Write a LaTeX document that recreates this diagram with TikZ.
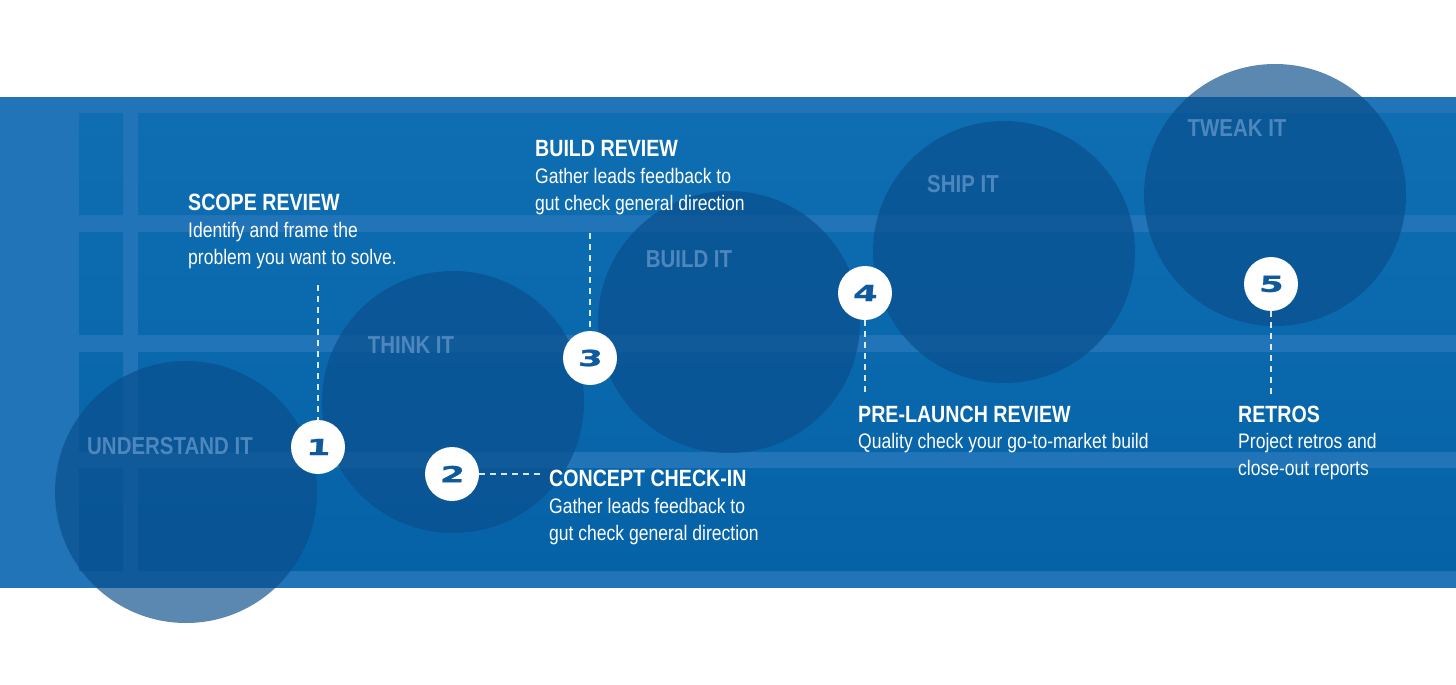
\documentclass[tikz,border=0pt]{standalone}
\usepackage{fontspec}
\setmainfont{Liberation Sans}
\newfontfamily\cond[FakeStretch=0.835]{Liberation Sans}
\newfontfamily\numfont[FakeStretch=1.6,FakeSlant=0.08,FakeBold=1]{DejaVu Sans}
\definecolor{bandlight}{HTML}{2274B8}
\definecolor{celltop}{HTML}{0F6EB2}
\definecolor{cellbot}{HTML}{0562A7}
\definecolor{bigc}{RGB}{10,78,140}
\definecolor{lbl}{HTML}{4D87BE}
\definecolor{numcol}{HTML}{0E5A9C}
\tikzset{
  bigcirc/.style={circle,fill=bigc,fill opacity=0.67,minimum size=262pt,inner sep=0pt},
  phase/.style={text=lbl,font=\cond\bfseries\fontsize{24.5}{28}\selectfont,inner sep=0pt},
  numc/.style={circle,fill=white,minimum size=54pt,inner sep=0pt,text=numcol,font=\numfont\bfseries\fontsize{22}{24}\selectfont},
  ttl/.style={anchor=base west,text=white,font=\cond\bfseries\fontsize{23.5}{27}\selectfont,inner sep=0pt},
  body/.style={anchor=base west,align=left,text=white,font=\cond\fontsize{21}{27}\selectfont,inner sep=0pt},
  dashc/.style={draw=white,draw opacity=0.85,line width=1.1pt,dash pattern=on 6pt off 5pt}
}
\begin{document}
\begin{tikzpicture}[x=1pt,y=-1pt]
\useasboundingbox (0,0) rectangle (1456,685);
\fill[white] (0,0) rectangle (1456,685);
% band
\fill[bandlight] (0,97) rectangle (1456,588);
\shade[top color=celltop,bottom color=cellbot]
  (79,113) rectangle (123,215) (138,113) rectangle (1456,215)
  (79,232) rectangle (123,335) (138,232) rectangle (1456,335)
  (79,352) rectangle (123,452) (138,352) rectangle (1456,452)
  (79,468) rectangle (123,571) (138,468) rectangle (1456,571);
% big circles
\node[bigcirc] (c1) at (186,492) {};
\node[bigcirc] (c2) at (453,402) {};
\node[bigcirc] (c3) at (729,322) {};
\node[bigcirc] (c4) at (1004,252) {};
\node[bigcirc] (c5) at (1275,195) {};
\node[phase] (p1) at (170,446) {UNDERSTAND IT};
\node[phase] (p2) at (411,345) {THINK IT};
\node[phase] (p3) at (689,259) {BUILD IT};
\node[phase] (p4) at (963,184) {SHIP IT};
\node[phase] (p5) at (1237,128) {TWEAK IT};
% numbered circles
\node[numc] (n1) at (318,447) {1};
\node[numc] (n2) at (452,474) {2};
\node[numc] (n3) at (590,358) {3};
\node[numc] (n4) at (865,293) {4};
\node[numc] (n5) at (1271,284) {5};
% texts (body anchors sit on the last line's baseline)
\node[ttl] (t1) at (188,210) {SCOPE REVIEW};
\node[body] (b1) at (188,264) {Identify and frame the\\problem you want to solve.};
\node[ttl] (t2) at (549,486) {CONCEPT CHECK-IN};
\node[body] (b2) at (549,540) {Gather leads feedback to\\gut check general direction};
\node[ttl] (t3) at (535,156) {BUILD REVIEW};
\node[body] (b3) at (535,210) {Gather leads feedback to\\gut check general direction};
\node[ttl] (t4) at (858,422) {PRE-LAUNCH REVIEW};
\node[body] (b4) at (858,448) {Quality check your go-to-market build};
\node[ttl] (t5) at (1238,422) {RETROS};
\node[body] (b5) at (1238,475) {Project retros and\\close-out reports};
% connectors
\coordinate (d1) at (318,285);
\coordinate (d2) at (540,474);
\coordinate (d3) at (590,233);
\coordinate (d4) at (865,395);
\coordinate (d5) at (1271,395);
\draw[dashc] (d1) -- (n1.north);
\draw[dashc] (n2.east) -- (d2);
\draw[dashc] (d3) -- (n3.north);
\draw[dashc] (n4.south) -- (d4);
\draw[dashc] (n5.south) -- (d5);
\end{tikzpicture}
\end{document}
